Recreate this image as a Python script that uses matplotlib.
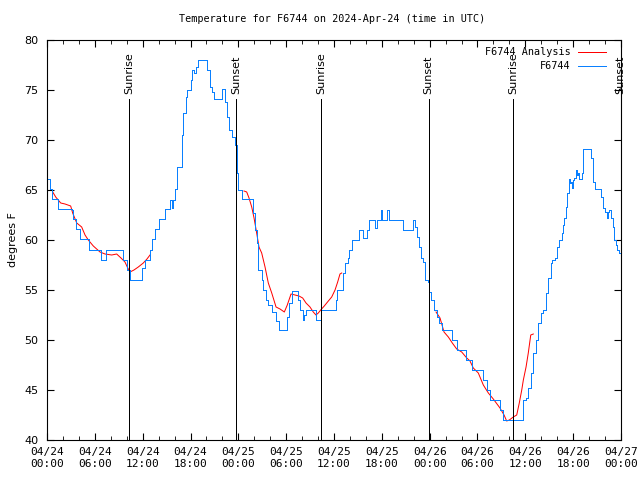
import numpy as np
import matplotlib
matplotlib.use("Agg")
import matplotlib.pyplot as plt

# hours since 2024-04-24 00:00 UTC
obs_hours = [0.16, 0.38, 0.66, 1.38, 3.10, 3.30, 3.64, 4.14, 5.27, 6.65, 6.77, 7.28, 7.34, 9.37,
             9.50, 10.04, 10.41, 11.67, 11.88, 12.29, 12.92, 13.13, 13.55, 14.05, 14.80, 15.43,
             15.64, 15.77, 16.06, 16.34, 16.60, 16.90, 17.10, 17.40, 17.60, 18.03, 18.23, 18.44,
             18.65, 18.98, 19.91, 20.11, 20.45, 20.74, 20.99, 21.70, 21.99, 22.33, 22.54, 22.83,
             23.17, 23.58, 23.80, 23.87, 24.00, 24.42, 25.75, 25.88, 26.09, 26.30, 26.51, 26.93,
             27.13, 27.43, 27.76, 28.19, 28.69, 29.14, 29.85, 30.14, 30.39, 30.70, 31.20, 31.45,
             31.74, 32.07, 32.24, 32.49, 33.49, 33.71, 34.12, 34.33, 35.84, 36.25, 36.41, 36.88,
             37.17, 37.38, 37.72, 37.92, 38.30, 38.97, 39.14, 39.39, 39.60, 40.02, 40.18, 40.43,
             40.93, 41.18, 41.43, 41.86, 42.06, 42.52, 42.69, 42.94, 44.49, 44.69, 45.75, 45.95,
             46.16, 46.37, 46.66, 46.91, 47.20, 47.45, 47.75, 47.95, 48.17, 48.54, 48.88, 49.21,
             49.51, 50.55, 50.76, 51.18, 51.47, 52.22, 52.52, 53.27, 54.23, 54.65, 55.16, 55.57,
             56.49, 56.82, 57.24, 59.55, 59.75, 60.09, 60.37, 60.68, 61.00, 61.30, 61.63, 61.93,
             62.26, 62.59, 62.81, 63.18, 63.38, 63.72, 64.01, 64.22, 64.56, 64.69, 64.89, 65.10,
             65.27, 65.48, 65.60, 65.73, 65.82, 65.94, 66.11, 66.36, 66.44, 66.57, 66.70, 66.95,
             67.07, 67.27, 68.03, 68.20, 68.45, 68.74, 69.28, 69.45, 69.70, 69.99, 70.21, 70.41,
             70.53, 70.71, 70.96, 71.12, 71.34, 71.54, 71.79, 71.96]
obs_temp = [66.1, 65.1, 64.1, 63.1, 63.0, 62.1, 61.1, 60.1, 59.0, 59.0, 58.0, 58.0, 59.0, 59.0,
            58.0, 57.0, 56.0, 56.0, 57.2, 58.0, 59.0, 60.1, 61.1, 62.1, 63.1, 64.0,
            63.2, 64.0, 65.1, 67.3, 67.3, 70.5, 72.7, 74.3, 75.0, 76.0, 77.0, 76.7,
            77.3, 78.0, 78.0, 77.0, 75.3, 74.8, 74.1, 74.1, 75.1, 73.8, 72.3, 71.0,
            70.3, 69.5, 68.3, 66.7, 65.0, 64.1, 64.1, 62.7, 61.0, 59.7, 57.0, 56.0,
            55.0, 54.0, 53.5, 52.8, 51.9, 51.0, 51.0, 52.3, 53.7, 54.9, 54.9, 54.0,
            53.0, 52.0, 52.5, 53.0, 53.0, 52.0, 52.0, 53.0, 53.0, 54.0, 55.0, 55.0,
            56.7, 57.7, 58.2, 59.0, 60.0, 60.0, 61.0, 61.0, 60.2, 60.2, 61.0, 62.0,
            62.0, 61.2, 62.0, 63.0, 62.0, 62.0, 63.0, 62.0, 62.0, 61.0, 61.0, 62.0,
            61.3, 60.3, 59.3, 58.2, 57.8, 56.0, 55.8, 54.8, 54.0, 53.0, 52.3, 51.7,
            51.0, 51.0, 50.0, 50.0, 49.0, 49.0, 48.0, 47.0, 47.0, 46.0, 45.0, 44.0,
            44.0, 43.0, 42.0, 42.0, 44.0, 44.2, 45.2, 46.7, 48.7, 50.0, 51.7, 52.7,
            53.0, 54.7, 56.2, 57.7, 58.0, 58.2, 59.3, 60.0, 60.7, 61.5, 62.2, 63.3,
            64.7, 66.1, 65.7, 65.8, 65.2, 66.0, 66.2, 67.0, 66.5, 66.7, 66.1, 66.1,
            66.7, 69.1, 69.1, 68.2, 65.8, 65.1, 65.1, 64.3, 63.2, 62.8, 62.2, 62.8,
            63.0, 62.2, 61.3, 60.0, 59.5, 59.0, 58.7, 58.2]

# analysis series, three pieces separated by gaps (nan)
ana_hours = [0.72, 1.09, 1.72, 2.26, 2.97, 3.22, 3.73, 4.35, 4.77, 5.18, 5.81, 6.65, 7.28, 8.12,
             8.74, 9.28, 9.78, 10.07, 10.41, 10.91, 11.45, 12.08, 12.54, 12.92, np.nan,
             24.71, 25.05, 25.34, 25.68, 25.97, 26.30, 26.59, 26.93, 27.35, 27.76, 28.19, 28.73,
             29.23, 29.77, 30.14, 30.61, 31.11, 31.61, 32.07, 32.49, 32.99, 33.40, 33.74, 34.03,
             34.33, 34.78, 35.29, 35.71, 36.13, 36.46, 36.75, 36.97, np.nan,
             48.80, 49.30, 49.80, 50.34, 50.84, 51.39, 52.02, 52.65, 53.06, 53.47, 54.10, 54.73,
             55.36, 55.98, 56.82, 57.33, 57.66, 57.99, 58.49, 58.92, 59.24, 59.55, 59.75, 60.09,
             60.37, 60.68, 61.00]
ana_temp = [64.8, 64.3, 63.7, 63.6, 63.4, 62.7, 61.7, 61.3, 60.5, 60.0, 59.4, 58.8, 58.6, 58.5,
            58.6, 58.2, 57.8, 57.3, 56.8, 57.0, 57.3, 57.7, 58.1, 58.5, np.nan,
            64.9, 64.8, 64.2, 63.3, 62.2, 60.7, 59.3, 58.7, 57.3, 55.7, 54.7, 53.3,
            53.1, 52.8, 53.5, 54.6, 54.5, 54.4, 54.2, 53.7, 53.3, 52.8, 52.5, 52.7,
            53.0, 53.4, 53.9, 54.3, 55.0, 55.8, 56.6, 56.7, np.nan,
            52.8, 52.2, 50.8, 50.3, 49.7, 49.1, 48.8, 48.2, 47.9, 47.2, 46.7, 45.5,
            44.7, 44.1, 43.2, 42.5, 41.9, 42.0, 42.3, 42.5, 43.7, 45.0, 46.0, 47.3,
            48.7, 50.5, 50.6]

sun_hours = [10.29, 23.77, 34.37, 47.86, 58.45, 71.95]
sun_labels = ["Sunrise", "Sunset", "Sunrise", "Sunset", "Sunrise", "Sunset"]

tick_hours = list(range(0, 73, 6))
tick_labels = ["04/24\n00:00", "04/24\n06:00", "04/24\n12:00", "04/24\n18:00",
               "04/25\n00:00", "04/25\n06:00", "04/25\n12:00", "04/25\n18:00",
               "04/26\n00:00", "04/26\n06:00", "04/26\n12:00", "04/26\n18:00",
               "04/27\n00:00"]

mono = "DejaVu Sans Mono"
plt.rcParams["lines.antialiased"] = False

fig = plt.figure(figsize=(6.4, 4.8), dpi=100)
ax = fig.add_axes([47 / 640, 40 / 480, 574 / 640, 400 / 480])

ax.plot(ana_hours, ana_temp, color="#ff0000", lw=0.72, antialiased=True, label="F6744 Analysis")
ax.plot(obs_hours, obs_temp, color="#0a80ff", lw=0.72, drawstyle="steps-post", label="F6744")

for h, lab in zip(sun_hours, sun_labels):
    ax.plot([h, h], [40, 74.1], color="black", lw=0.72)
    ax.text(h, 74.6, lab, rotation=90, ha="center", va="bottom", fontsize=8)

ax.set_xlim(0, 72)
ax.set_ylim(40, 80)
ax.set_xticks(tick_hours)
ax.set_xticklabels(tick_labels, family=mono, fontsize=8)
ax.set_xticks(range(0, 73, 2), minor=True)
ax.set_yticks(range(40, 81, 5))
ax.tick_params(axis="y", labelsize=8, direction="in", right=True, length=5, pad=6)
ax.tick_params(axis="x", which="major", direction="in", top=True, length=5, pad=5)
ax.tick_params(axis="x", which="minor", direction="in", top=True, length=3)
ax.set_ylabel("degrees F", fontsize=8, labelpad=5)

ax.legend(loc="upper right", bbox_to_anchor=(0.985, 0.997), frameon=False, markerfirst=False,
          handlelength=2.75, prop={"family": mono, "size": 7.3}, labelspacing=0.4, borderaxespad=0.2)

fig.text(0.519, 0.96, "Temperature for F6744 on 2024-Apr-24 (time in UTC)",
         ha="center", va="center", family=mono, fontsize=7.3)

fig.savefig("out.png", dpi=100)
